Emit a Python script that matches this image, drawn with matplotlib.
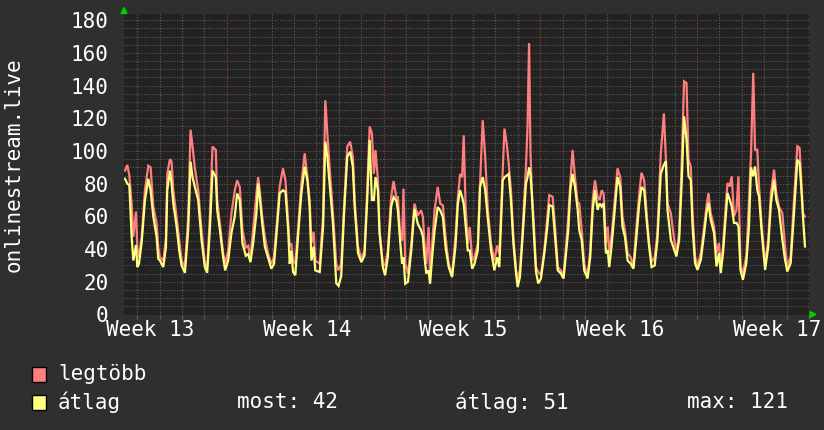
import matplotlib
matplotlib.use("Agg")
import matplotlib.pyplot as plt
from matplotlib.patches import Rectangle, Polygon

plt.rcParams['font.family'] = ['DejaVu Sans Mono', 'DejaVu Sans']

# time in days from the left edge of the graph
t_days = [
    0.045, 0.149, 0.238, 0.342, 0.416, 0.535, 0.595, 0.669, 0.788, 0.936,
    1.085, 1.189, 1.308, 1.456, 1.531, 1.605, 1.754, 1.873, 1.932, 2.051,
    2.125, 2.2, 2.348, 2.467, 2.571, 2.72, 2.868, 2.972, 3.061, 3.165,
    3.314, 3.462, 3.611, 3.715, 3.834, 3.953, 4.101, 4.161, 4.279, 4.428,
    4.517, 4.651, 4.8, 4.948, 5.052, 5.171, 5.29, 5.439, 5.543, 5.647,
    5.766, 5.914, 5.99, 6.06, 6.17, 6.29, 6.43, 6.58, 6.7, 6.85,
    6.95, 7.1, 7.21, 7.33, 7.4, 7.47, 7.55, 7.65, 7.77, 7.92,
    8.07, 8.19, 8.29, 8.37, 8.47, 8.54, 8.74, 8.89, 8.99, 9.08,
    9.18, 9.33, 9.48, 9.58, 9.7, 9.82, 9.97, 10.1, 10.22, 10.3,
    10.45, 10.6, 10.74, 10.86, 10.97, 11.07, 11.16, 11.23, 11.34, 11.41,
    11.56, 11.66, 11.78, 11.93, 12.04, 12.16, 12.23, 12.34, 12.42, 12.48,
    12.56, 12.68, 12.83, 12.97, 13.12, 13.27, 13.35, 13.42, 13.5, 13.6,
    13.67, 13.76, 13.87, 14.01, 14.12, 14.24, 14.36, 14.5, 14.65, 14.8,
    14.91, 15.01, 15.1, 15.17, 15.25, 15.35, 15.44, 15.55, 15.65, 15.8,
    15.9, 16.02, 16.13, 16.24, 16.39, 16.54, 16.66, 16.76, 16.91, 16.99,
    17.09, 17.18, 17.28, 17.39, 17.51, 17.58, 17.68, 17.8, 17.95, 18.02,
    18.09, 18.15, 18.21, 18.3, 18.4, 18.5, 18.62, 18.77, 18.89, 18.99,
    19.14, 19.25, 19.37, 19.51, 19.63, 19.74, 19.84, 19.93, 20.03, 20.14,
    20.26, 20.33, 20.44, 20.55, 20.7, 20.82, 20.93, 21.03, 21.15, 21.24,
    21.33, 21.42, 21.52, 21.6, 21.67, 21.77, 21.89, 22.04, 22.16, 22.26,
    22.37, 22.49, 22.63, 22.75, 22.86, 23.01, 23.11, 23.23, 23.35, 23.45,
    23.56, 23.7, 23.82, 23.97, 24.11, 24.2, 24.27, 24.42, 24.57, 24.67,
    24.79, 24.91, 25.01, 25.12, 25.21, 25.31, 25.39, 25.5, 25.61, 25.76,
    25.91, 26.01, 26.1, 26.2, 26.35, 26.46, 26.57, 26.65, 26.75, 26.87,
    26.95, 27.05, 27.14, 27.24, 27.35, 27.44, 27.53, 27.64, 27.79, 27.91,
    28.0, 28.1, 28.18, 28.28, 28.36, 28.48, 28.63, 28.77, 28.89, 29.03,
    29.13, 29.25, 29.4, 29.52, 29.62, 29.77, 29.92, 30.07, 30.17, 30.26,
    30.32, 30.41,
]

legtobb = [
    88, 91.5, 85, 68, 47.5, 63, 41, 35, 47, 76,
    91, 90, 66, 56, 41, 35, 33, 47, 86, 95,
    93.5, 76, 60, 45.5, 33, 29, 60, 113, 102.7, 89.4,
    76, 52, 31, 29, 60, 102.7, 100.6, 70, 56, 37.5,
    31, 39, 62, 76, 82, 78, 52, 41, 42, 35,
    52, 74, 84, 76, 60, 47.5, 37.5, 31, 35, 60,
    78, 89.4, 82, 56, 41.5, 43.5, 33, 31, 52, 80,
    98.6, 84.3, 70, 43.5, 50.6, 33, 31, 60, 131, 110.8,
    90.4, 62, 31, 27, 31, 64, 102.7, 105.7, 96.5, 70,
    41.5, 34, 39, 76, 115, 110.8, 86, 100.6, 82, 52,
    31, 30, 39, 72, 81.6, 71.8, 71.8, 47.3, 45.3, 77,
    31, 25, 43.3, 67.8, 60.6, 63.7, 59.6, 43.3, 31, 53.5,
    22.9, 43.3, 63.7, 78, 67.8, 66.7, 47.3, 31, 24, 47.3,
    71.8, 86, 84, 109.6, 67.8, 43.3, 53.5, 33, 35, 43.3,
    80, 118.8, 96.3, 65.7, 43.3, 33, 42.2, 37, 86, 113.7,
    104.5, 92.2, 76, 47.3, 27, 21.8, 27, 51.4, 90, 115,
    166, 100, 76, 56, 29, 26, 24, 39.4, 58, 73,
    72, 53.7, 29, 27, 24, 41.5, 60, 80, 100.6, 84,
    68, 68, 51.6, 31, 23, 39.4, 70, 82, 72, 70,
    76, 74, 43.5, 53.7, 37.4, 47.5, 66, 89.4, 84, 60,
    51.6, 37.4, 35, 29, 50, 74, 86.7, 82, 60, 43.5,
    32, 35, 50, 98, 123, 94.7, 68, 62, 45.7, 37.6,
    49.8, 94.7, 142.6, 141.6, 94.7, 90.6, 62, 35.5, 29.4, 37.6,
    53.9, 66, 74.3, 62, 53.9, 37.6, 43.7, 29.4, 41.6, 66,
    80.4, 78.4, 84.5, 60, 64, 84.5, 29.4, 25.3, 35.5, 70.2,
    98, 147.8, 100.8, 100.8, 78.4, 53.9, 31.4, 45.7, 74.3, 88.6,
    74.3, 66, 62, 41.6, 29.4, 35.5, 70.2, 102.9, 101.9, 78.4,
    62, 60,
]

atlag = [
    83, 80, 79, 47.5, 33, 42.5, 29, 31, 44, 70,
    83, 76, 60, 47.5, 34, 33, 29, 41, 76, 88,
    80, 68, 54, 39, 30, 25.5, 52, 93.5, 84, 78,
    70, 45.5, 29, 25.5, 52, 88, 84, 64, 52, 35,
    27, 33, 50, 60, 74, 70, 43.5, 36, 37, 32,
    43.5, 62, 80, 72, 56, 41.5, 35, 28, 31, 56,
    74, 76, 75, 52, 31, 39, 26, 24, 47.5, 74,
    90.4, 82, 66, 33, 41.5, 27, 26, 53.7, 105.7, 96.5,
    80, 56, 19, 17.5, 23.5, 60, 96.5, 99.6, 90.4, 66,
    37.5, 32, 36, 70, 106.7, 70, 70, 84, 76, 50,
    29, 24, 35, 66, 71.8, 69.8, 63.7, 43.3, 31, 35,
    18.8, 20, 39.2, 64.7, 55.5, 51.4, 47.3, 35.1, 25, 27,
    18.8, 35, 51.4, 65.7, 63.7, 59.6, 41.2, 29, 22.9, 41.2,
    67.8, 76, 71.8, 67.8, 55.5, 39.2, 39.2, 28, 31, 39.2,
    78, 84, 76, 59.6, 39.2, 27, 35, 29, 82, 84,
    85, 86, 69.8, 43.3, 25, 16.8, 22.9, 47.3, 80, 84,
    90, 86, 74, 50, 26, 19, 22, 37.4, 51.6, 67,
    66, 47.5, 27, 25, 22, 37.4, 51.6, 76, 86, 78,
    64, 51.6, 45.5, 27, 22, 35, 64, 76, 64, 68,
    66, 68, 37.4, 39.4, 29, 41.5, 60, 84, 78, 53.7,
    47.5, 33, 31, 28, 43.5, 68, 78, 76, 56, 41.5,
    29, 30, 45.5, 86, 91.6, 93.7, 64, 45.7, 39.6, 35.5,
    45.7, 82.4, 121.2, 107, 84.5, 82.4, 53.9, 31.4, 27.3, 33.5,
    49.8, 62, 68.2, 58, 49.8, 29.4, 37.6, 25.3, 37.6, 60,
    74.3, 70.2, 66, 56, 56, 53.9, 27.3, 21.2, 31.4, 53.9,
    90, 84.5, 90.6, 76.3, 72.2, 49.8, 27.3, 41.6, 68.2, 82.4,
    70.2, 64, 45.7, 33.5, 26.3, 31.4, 62, 94.7, 92.6, 74.3,
    60, 41.6,
]

week_labels = ["Week 13", "Week 14", "Week 15", "Week 16", "Week 17"]
week_label_pos = [1.16, 8.16, 15.16, 22.16, 29.16]
stats = [("most", 42), ("átlag", 51), ("max", 121)]

W, H = 824, 430
bg = "#2f2f2f"
red = "#ff7f7f"
yellow = "#ffff7f"
grid_gray = "#5c5c5c"
grid_red = "#8c4242"

fig = plt.figure(figsize=(W / 100, H / 100), dpi=100, facecolor=bg)
ax = fig.add_axes([124 / W, (H - 314.5) / H, (809 - 124) / W, (314.5 - 14) / H])
ax.set_facecolor("#222222")
ax.set_xlim(0, 30.54)
ax.set_ylim(0, 183.8)

dots = (0, (1, 1.5))
for v in range(5, 185, 5):
    c = grid_red if v % 20 == 0 else grid_gray
    ax.axhline(v, color=c, lw=0.8, ls=dots, zorder=1)
for k in range(31):
    d = 0.59 + k
    c = grid_red if k % 7 == 4 else grid_gray
    ax.axvline(d, color=c, lw=0.8, ls=dots, zorder=1)

ax.plot(t_days, legtobb, color=red, lw=1.6, zorder=3, solid_joinstyle="miter")
ax.plot(t_days, atlag, color=yellow, lw=1.6, zorder=4, solid_joinstyle="miter")

for s in ax.spines.values():
    s.set_visible(False)

ax.set_yticks(range(0, 181, 20))
ax.set_xticks(week_label_pos)
ax.set_xticklabels(week_labels)
ax.set_xticks([0.59 + k for k in range(31)], minor=True)
ax.tick_params(axis='y', length=0, pad=11, labelsize=15, labelcolor="white")
ax.tick_params(axis='x', which='major', length=0, pad=4, labelsize=15, labelcolor="white")
ax.tick_params(axis='x', which='minor', length=3, color="#555555", width=1)

fig.text(14 / W, 1 - 165 / H, "onlinestream.live", rotation=90, ha="center", va="center",
         color="white", fontsize=15)

# arrows
fig.patches.append(Polygon([[121 / W, 1 - 13.5 / H], [127 / W, 1 - 13.5 / H], [124 / W, 1 - 7.5 / H]],
                           closed=True, transform=fig.transFigure, color="#00cc00"))
fig.patches.append(Polygon([[810 / W, 1 - 311.5 / H], [810 / W, 1 - 317.5 / H], [816 / W, 1 - 314.5 / H]],
                           closed=True, transform=fig.transFigure, color="#00cc00"))

# legend
rows = [("legtöbb", red, 374), ("átlag", yellow, 402)]
for name, col, yc in rows:
    fig.patches.append(Rectangle((32 / W, 1 - (yc + 8) / H), 14 / W, 15 / H, transform=fig.transFigure,
                                 facecolor=col, edgecolor="black", lw=1))
    fig.text(58 / W, 1 - yc / H, name, ha="left", va="center", color="white", fontsize=15)

for (lab, val), x in zip(stats, [237, 455, 687]):
    fig.text(x / W, 1 - 402 / H, f"{lab}: {val}", ha="left", va="center", color="white", fontsize=15)

fig.savefig("out.png", dpi=100, facecolor=bg)
